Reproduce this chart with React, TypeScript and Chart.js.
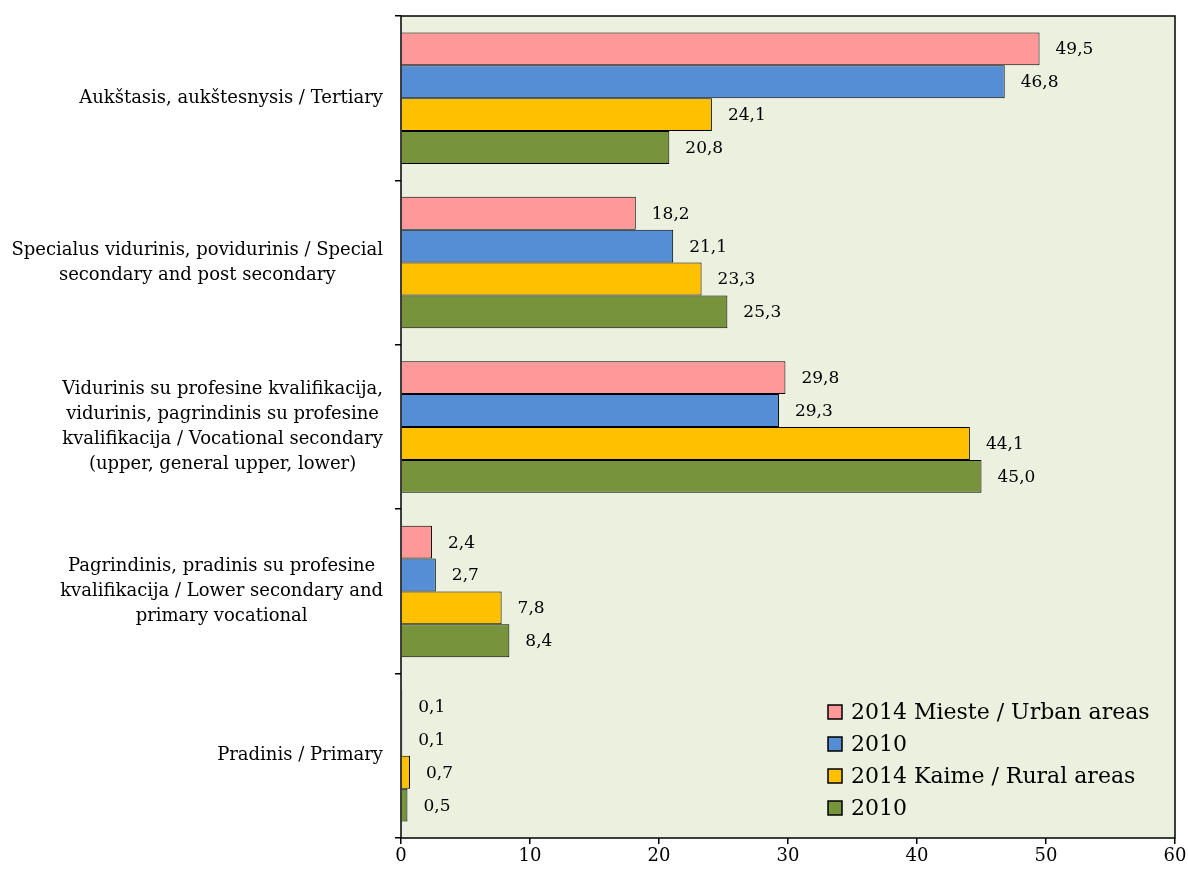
import React, { useEffect, useRef } from "react";
import { Chart, registerables } from "chart.js";

Chart.register(...registerables);

const categories: string[][] = [
  ["Aukštasis, aukštesnysis / Tertiary"],
  ["Specialus vidurinis, povidurinis / Special", "secondary and post secondary"],
  [
    "Vidurinis su profesine kvalifikacija,",
    "vidurinis, pagrindinis su profesine",
    "kvalifikacija / Vocational secondary",
    "(upper, general upper, lower)",
  ],
  ["Pagrindinis, pradinis su profesine", "kvalifikacija / Lower secondary and", "primary vocational"],
  ["Pradinis / Primary"],
];

const seriesNames: string[] = ["2014 Mieste / Urban areas", "2010", "2014 Kaime / Rural areas", "2010"];
const urban2014: number[] = [49.5, 18.2, 29.8, 2.4, 0.1];
const urban2010: number[] = [46.8, 21.1, 29.3, 2.7, 0.1];
const rural2014: number[] = [24.1, 23.3, 44.1, 7.8, 0.7];
const rural2010: number[] = [20.8, 25.3, 45.0, 8.4, 0.5];
const seriesColors: string[] = ["#FF9999", "#558ED5", "#FFC000", "#77933C"];
const xTicks: number[] = [0, 10, 20, 30, 40, 50, 60];

const FONT = "'DejaVu Serif', serif";

const fmt = (v: number) => v.toFixed(1).replace(".", ",");

const customPlugin = {
  id: "custom",
  beforeDraw(chart: any) {
    const { ctx, chartArea } = chart;
    ctx.save();
    ctx.fillStyle = "#EBF1DE";
    ctx.fillRect(chartArea.left, chartArea.top, chartArea.right - chartArea.left, chartArea.bottom - chartArea.top);
    ctx.restore();
  },
  afterDraw(chart: any) {
    const { ctx, chartArea } = chart;
    ctx.save();
    // border
    ctx.strokeStyle = "#000";
    ctx.lineWidth = 1.5;
    ctx.strokeRect(chartArea.left, chartArea.top, chartArea.right - chartArea.left, chartArea.bottom - chartArea.top);

    // value labels
    ctx.fillStyle = "#000";
    ctx.font = `17px ${FONT}`;
    ctx.textAlign = "left";
    ctx.textBaseline = "middle";
    chart.data.datasets.forEach((ds: any, di: number) => {
      const meta = chart.getDatasetMeta(di);
      meta.data.forEach((el: any, i: number) => {
        ctx.fillText(fmt(ds.data[i]), el.x + 16, el.y + 1);
      });
    });

    // category labels
    const yScale = chart.scales.y;
    ctx.font = `18px ${FONT}`;
    ctx.textAlign = "center";
    const rightEdge = 383;
    categories.forEach((lines, i) => {
      const cy = yScale.getPixelForTick(i);
      const maxW = Math.max(...lines.map((l) => ctx.measureText(l).width));
      const cx = rightEdge - maxW / 2;
      lines.forEach((l, j) => {
        ctx.fillText(l, cx, cy + (j - (lines.length - 1) / 2) * 25);
      });
    });

    // legend
    const lx = 828;
    const ly0 = 712;
    ctx.font = `22px ${FONT}`;
    ctx.textAlign = "left";
    seriesNames.forEach((name, i) => {
      const cy = ly0 + i * 32;
      ctx.fillStyle = seriesColors[i];
      ctx.fillRect(lx, cy - 7, 14, 14);
      ctx.strokeStyle = "#000";
      ctx.lineWidth = 1.5;
      ctx.strokeRect(lx, cy - 7, 14, 14);
      ctx.fillStyle = "#000";
      ctx.fillText(name, lx + 23, cy + 1);
    });
    ctx.restore();
  },
};

export default function App() {
  const ref = useRef<HTMLCanvasElement | null>(null);
  useEffect(() => {
    if (!ref.current) return;
    const chart = new Chart(ref.current, {
      type: "bar",
      data: {
        labels: categories.map((c) => c.join(" ")),
        datasets: [urban2014, urban2010, rural2014, rural2010].map((d, i) => ({
          label: seriesNames[i],
          data: d,
          backgroundColor: seriesColors[i],
          borderColor: "#000",
          borderWidth: 1,
          categoryPercentage: 0.8,
          barPercentage: 1,
        })),
      },
      options: {
        indexAxis: "y",
        responsive: false,
        animation: false,
        layout: { padding: { top: 16, right: 13, left: 0, bottom: 0 } },
        plugins: { legend: { display: false }, tooltip: { enabled: false } },
        scales: {
          x: {
            min: 0,
            max: 60,
            afterBuildTicks: (scale: any) => {
              scale.ticks = xTicks.map((v) => ({ value: v }));
            },
            afterFit: (scale: any) => {
              scale.height = 35;
              scale.paddingLeft = 0;
              scale.paddingRight = 0;
            },
            grid: { drawOnChartArea: false, drawTicks: true, tickLength: 6, color: "#000", lineWidth: 1.5 },
            border: { display: false },
            ticks: { color: "#000", font: { family: FONT, size: 18 }, padding: 2, maxRotation: 0 },
          },
          y: {
            afterFit: (scale: any) => {
              scale.width = 401;
              scale.paddingTop = 0;
              scale.paddingBottom = 0;
            },
            grid: { drawOnChartArea: false, drawTicks: true, tickLength: 6, color: "#000", lineWidth: 1.5, offset: true },
            border: { display: false },
            ticks: { display: false },
          },
        },
      },
      plugins: [customPlugin],
    });
    return () => chart.destroy();
  }, []);
  return (
    <div style={{ width: 1188, height: 873, overflow: "hidden" }}>
      <style>{"body{margin:0;overflow:hidden}"}</style>
      <canvas ref={ref} width={1188} height={873} style={{ display: "block" }} />
    </div>
  );
}
